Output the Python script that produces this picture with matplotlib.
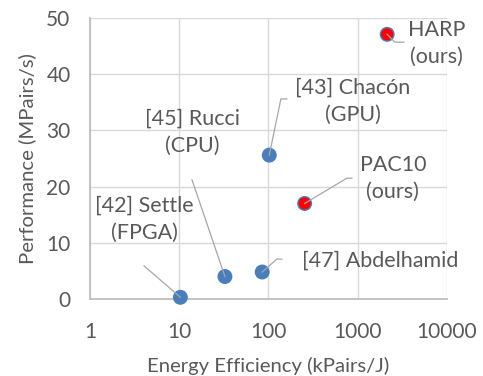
import matplotlib.pyplot as plt
import numpy as np

# energy efficiency (kPairs/J) vs performance (MPairs/s)
names = ['[42] Settle\n(FPGA)', '[45] Rucci\n(CPU)', '[47] Abdelhamid',
         '[43] Chacón\n(GPU)', 'PAC10\n(ours)', 'HARP\n(ours)']
efficiency = [10.3, 32.5, 85, 102, 254, 2135]
performance = [0.3, 4.0, 4.8, 25.6, 17.0, 47.1]
is_ours = [False, False, False, False, True, True]

# label placement (data coords) and leader line bends
label_pos = [(4.03, 14.2), (13.9, 29.7), (237, 6.9),
             (881, 35.2), (2473, 21.4), (7690, 45.5)]
label_ha = ['center', 'center', 'left', 'center', 'center', 'center']
leaders = [
    [(4.03, 5.9)],
    [(13.9, 21.2)],
    [(124, 7.1), (141, 7.1)],
    [(137.7, 35.6), (160.7, 35.6)],
    [(755, 21.5), (859, 21.5)],
    [(2602, 45.7), (3283, 45.7)],
]

plt.rcParams['font.family'] = ['Lato', 'DejaVu Sans']
txt = '#595959'

fig = plt.figure(figsize=(4.83, 3.76), dpi=100)
ax = fig.add_axes([0.1863, 0.2048, 0.7392, 0.7473])

ax.set_xscale('log')
ax.set_xlim(1, 10000)
ax.set_ylim(0, 50)
ax.set_xticks([1, 10, 100, 1000, 10000])
ax.set_xticklabels(['1', '10', '100', '1000', '10000'])
ax.set_yticks([0, 10, 20, 30, 40, 50])
ax.minorticks_off()
ax.grid(True, color='#d9d9d9', linewidth=1)
ax.set_axisbelow(True)
for s in ['top', 'right']:
    ax.spines[s].set_visible(False)
for s in ['left', 'bottom']:
    ax.spines[s].set_color('#bfbfbf')
    ax.spines[s].set_linewidth(1.3)
ax.tick_params(length=0, labelsize=15, labelcolor=txt)
ax.tick_params(axis='x', pad=16.5)
ax.tick_params(axis='y', pad=14)

colors = ['#ff0000' if o else '#4a7ebb' for o in is_ours]
ax.scatter(efficiency, performance, s=95, c=colors,
           edgecolors='#4a7ebb', linewidths=1, zorder=3, clip_on=False)

for i in range(len(names)):
    pts = [(efficiency[i], performance[i])] + leaders[i]
    xs = [p[0] for p in pts]
    ys = [p[1] for p in pts]
    ax.plot(xs, ys, color='#a6a6a6', linewidth=0.9, zorder=4)
    ax.text(label_pos[i][0], label_pos[i][1], names[i], ha=label_ha[i],
            va='center', fontsize=15.5, color=txt, linespacing=1.42,
            multialignment='center')

ax.set_xlabel('Energy Efficiency (kPairs/J)', fontsize=14.6, color=txt, labelpad=11)
ax.set_ylabel('Performance (MPairs/s)', fontsize=14.6, color=txt, labelpad=7)

fig.savefig('out.png', dpi=100)
